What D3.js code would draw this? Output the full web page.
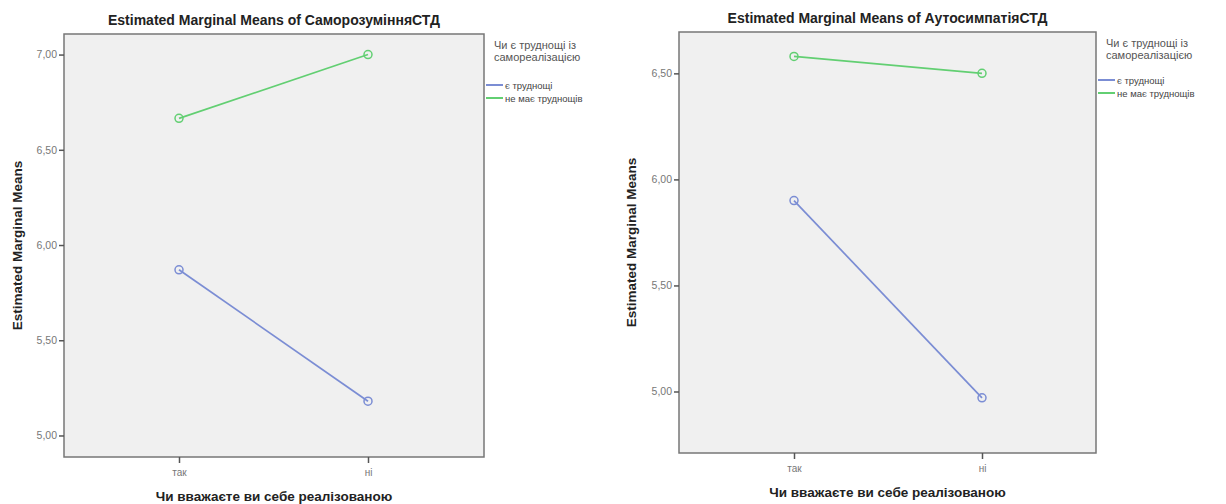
<!DOCTYPE html>
<html><head><meta charset="utf-8">
<script src="https://cdn.jsdelivr.net/npm/d3@7"></script>
<style>
body{margin:0;background:#fff;}
svg{display:block;font-family:"Liberation Sans",Arial,sans-serif;}
</style></head>
<body><svg id="c" width="1226" height="504"></svg>
<script>
const categories = ["так", "ні"];
const seriesNames = ["є труднощі", "не має труднощів"];
const legendTitle = ["Чи є труднощі із", "самореалізацією"];
const xTitle = "Чи вважаєте ви себе реалізованою";
const yTitle = "Estimated Marginal Means";

const titleLeft = "Estimated Marginal Means of СаморозумінняСТД";
const blueLeft = [5.87, 5.18];
const greenLeft = [6.665, 7.00];
const ticksLeft = [5.0, 5.5, 6.0, 6.5, 7.0];

const titleRight = "Estimated Marginal Means of АутосимпатіяСТД";
const blueRight = [5.90, 4.97];
const greenRight = [6.58, 6.50];
const ticksRight = [5.0, 5.5, 6.0, 6.5];

const colors = ["#7b8dd4", "#62cf72"];
const fmt = v => d3.format(".2f")(v).replace(".", ",");

const svg = d3.select("#c");

function panel(cfg) {
  const g = svg.append("g");
  const y = d3.scaleLinear().domain(cfg.domain).range([cfg.y1, cfg.y0]);
  const xpts = d3.scalePoint().domain(categories).range([cfg.xt0, cfg.xt1]);

  g.append("rect").attr("x", cfg.x0).attr("y", cfg.y0)
    .attr("width", cfg.x1 - cfg.x0).attr("height", cfg.y1 - cfg.y0)
    .attr("fill", "#f0f0f0").attr("stroke", "#777").attr("stroke-width", 1.5);

  // y axis
  const ya = g.append("g").attr("transform", `translate(${cfg.x0},0)`)
    .call(d3.axisLeft(y).tickValues(cfg.ticks).tickFormat(fmt).tickSize(5).tickPadding(2));
  ya.select(".domain").remove();
  ya.selectAll("line").attr("stroke", "#555").attr("stroke-width", 1.5);
  ya.selectAll("text").attr("fill", "#777").style("font-size", "10.5px");

  // x axis
  const xa = g.append("g").attr("transform", `translate(0,${cfg.y1})`)
    .call(d3.axisBottom(xpts).tickSize(6).tickPadding(6));
  xa.select(".domain").remove();
  xa.selectAll("line").attr("stroke", "#555").attr("stroke-width", 1.5);
  xa.selectAll("text").attr("fill", "#777").style("font-size", "10px");

  // title
  g.append("text").attr("x", (cfg.x0 + cfg.x1) / 2).attr("y", cfg.y0 - 9)
    .attr("text-anchor", "middle").style("font-size", "14px").style("font-weight", "bold")
    .attr("fill", "#222").text(cfg.title);
  // x title
  g.append("text").attr("x", (cfg.x0 + cfg.x1) / 2).attr("y", cfg.y1 + 44)
    .attr("text-anchor", "middle").style("font-size", "13.5px").style("font-weight", "bold")
    .attr("fill", "#222").text(xTitle);
  // y title
  g.append("text").attr("transform", `translate(${cfg.yTitleX},${(cfg.y0 + cfg.y1) / 2}) rotate(-90)`)
    .attr("text-anchor", "middle").style("font-size", "13.5px").style("font-weight", "bold")
    .attr("fill", "#222").text(yTitle);

  const line = d3.line().x((d, i) => xpts(categories[i])).y(d => y(d));
  [cfg.blue, cfg.green].forEach((vals, si) => {
    g.append("path").datum(vals).attr("d", line).attr("fill", "none")
      .attr("stroke", colors[si]).attr("stroke-width", 1.7);
    g.selectAll(null).data(vals).enter().append("circle")
      .attr("cx", (d, i) => xpts(categories[i])).attr("cy", d => y(d)).attr("r", 4)
      .attr("fill", "none").attr("stroke", colors[si]).attr("stroke-width", 1.5);
  });

  // legend
  const lg = g.append("g").attr("transform", `translate(${cfg.x1 + 2},${cfg.y0})`);
  legendTitle.forEach((t, i) => lg.append("text").attr("x", 8).attr("y", 15 + i * 12)
    .style("font-size", "11px").attr("fill", "#555").text(t));
  seriesNames.forEach((t, i) => {
    const yy = cfg.legY + i * 13;
    lg.append("line").attr("x1", 0).attr("x2", 17).attr("y1", yy).attr("y2", yy)
      .attr("stroke", colors[i]).attr("stroke-width", 2);
    lg.append("text").attr("x", 19).attr("y", yy + 3.5).style("font-size", "9.5px")
      .attr("fill", "#444").text(t);
  });
}

panel({x0: 64, x1: 484, y0: 34, y1: 457, xt0: 179, xt1: 368, domain: [4.887, 7.108],
  ticks: ticksLeft, title: titleLeft, blue: blueLeft, green: greenLeft, yTitleX: 22, legY: 51});
panel({x0: 679, x1: 1096, y0: 32, y1: 453, xt0: 794, xt1: 982, domain: [4.710, 6.695],
  ticks: ticksRight, title: titleRight, blue: blueRight, green: greenRight, yTitleX: 636, legY: 48});
</script></body></html>
